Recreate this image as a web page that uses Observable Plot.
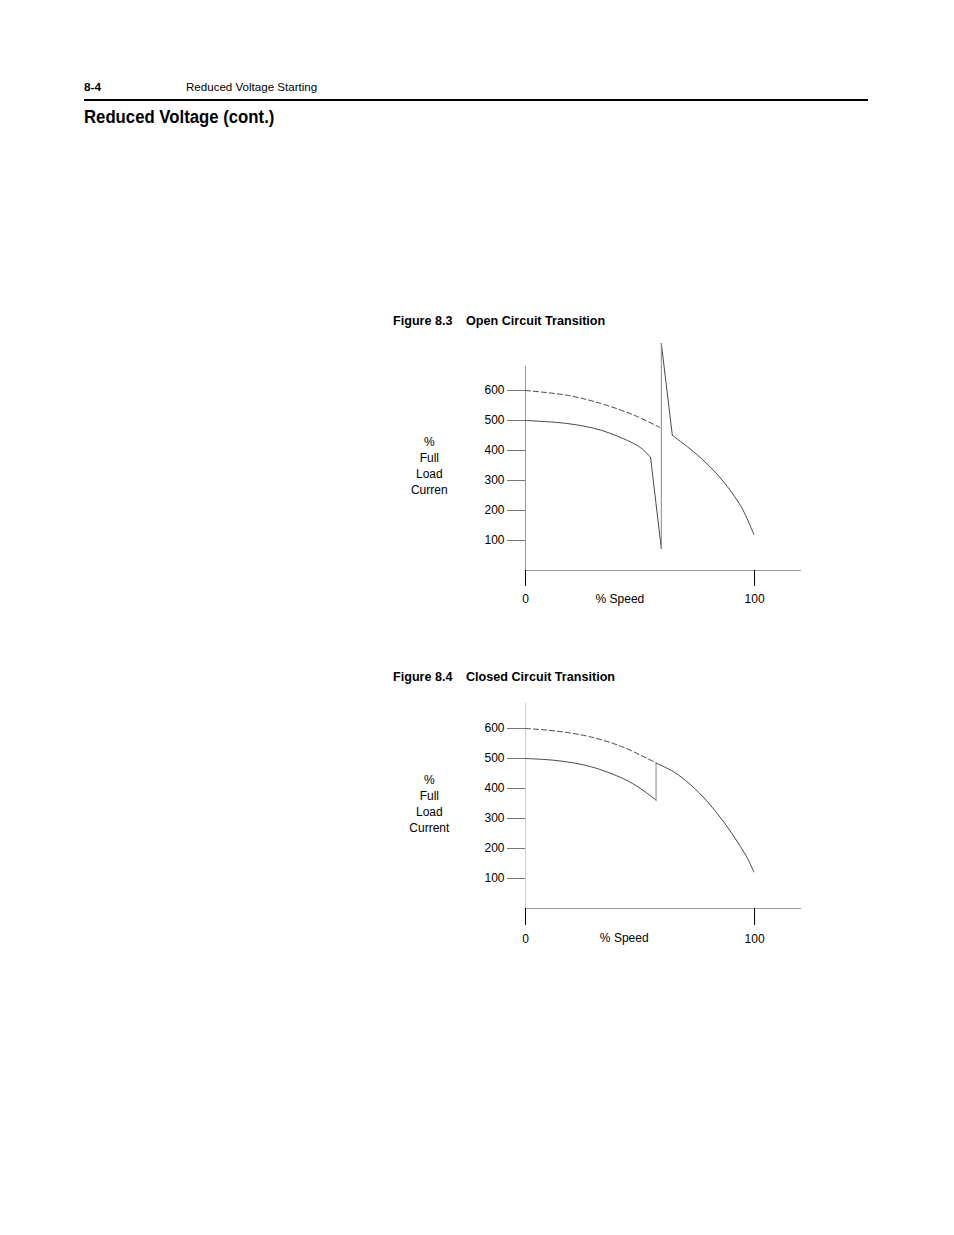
<!DOCTYPE html>
<html>
<head>
<meta charset="utf-8">
<script src="https://cdn.jsdelivr.net/npm/d3@7"></script>
<script src="https://cdn.jsdelivr.net/npm/@observablehq/plot@0.6"></script>
<style>
  html, body { margin: 0; padding: 0; background: #fff; }
  #page { position: relative; width: 954px; height: 1235px; overflow: hidden;
          font-family: "Liberation Sans", Arial, Helvetica, sans-serif; color: #000; }
  .t { position: absolute; white-space: nowrap; line-height: 1; transform-origin: left top; }
  .b { font-weight: bold; }
  .rule { position: absolute; left: 84px; top: 99px; width: 784px; height: 2px; background: #000; }
  .fig { position: absolute; left: 400px; }
</style>
</head>
<body>
<div id="page">
  <div class="t b" style="left:84px; top:81.5px; font-size:11.8px;">8-4</div>
  <div class="t" style="left:186px; top:81.5px; font-size:11.8px; transform:scaleX(0.98);">Reduced Voltage Starting</div>
  <div class="rule"></div>
  <div class="t b" style="left:84px; top:108.3px; font-size:18px; transform:scaleX(0.93);">Reduced Voltage (cont.)</div>

  <div class="t b" style="left:393px; top:315px; font-size:12.6px;">Figure 8.3</div>
  <div class="t b" style="left:466px; top:315px; font-size:12.6px;">Open Circuit Transition</div>
  <div class="fig" id="fig1" style="top:336px;"></div>

  <div class="t b" style="left:393px; top:671px; font-size:12.6px;">Figure 8.4</div>
  <div class="t b" style="left:466px; top:671px; font-size:12.6px;">Closed Circuit Transition</div>
  <div class="fig" id="fig2" style="top:698px;"></div>
</div>
<script>
// ---- shared axis data ----
const xTicks = [0, 100];
const yTicks = [100, 200, 300, 400, 500, 600];
const xAxisEnd = 120.5;
const xLabel = "% Speed";

// ---- Figure 8.3 Open Circuit Transition ----
const fig1YAxisTop = 681;
const fig1YLabel = "%\nFull\nLoad\nCurren";
const fig1Dashed = [[0, 600], [18.2, 584], [32.8, 557], [47.3, 518], [58.6, 477]];
const fig1Lower  = [[0, 500], [18.2, 490], [32.8, 468], [47.3, 423], [51, 405], [54.6, 377]];
const fig1Drop   = [[54.6, 377], [59.3, 73]];
const fig1Jump   = [[59.3, 73], [59.3, 757]];
const fig1Spike  = [[59.3, 757], [64.1, 451]];
const fig1Upper  = [[64.1, 451], [73.5, 395], [80.8, 344], [88.1, 280], [93.9, 216], [96.8, 172], [99.7, 120]];

// ---- Figure 8.4 Closed Circuit Transition ----
const fig2YAxisTop = 684;
const fig2YLabel = "%\nFull\nLoad\nCurrent";
const fig2Dashed = [[0, 600], [13.8, 591], [28.4, 572], [42.9, 537], [57, 485]];
const fig2Lower  = [[0, 500], [13.8, 493], [28.4, 473], [42.9, 432], [50.2, 400], [57, 361]];
const fig2Jump   = [[57, 361], [57, 485]];
const fig2Upper  = [[57, 485], [64.8, 455], [72, 413], [79.3, 357], [86.6, 288], [93.9, 206], [97, 166], [99.7, 122]];

const X = d => d[0], Y = d => d[1];
const curveColor = "#333";

function figure(cfg) {
  return Plot.plot({
    width: 420,
    height: cfg.yMax * 0.3 + 40,
    marginLeft: 125,
    marginRight: 19,
    marginTop: 0,
    marginBottom: 40,
    style: { fontFamily: '"Liberation Sans", Arial, sans-serif', fontSize: "12px", background: "transparent", overflow: "visible", color: "#000" },
    x: { domain: [0, xAxisEnd] },
    y: { domain: [0, cfg.yMax] },
    marks: [
      Plot.ruleX([0], { y1: 0, y2: cfg.yAxisTop, stroke: cfg.yAxisColor, strokeWidth: 1 }),
      Plot.ruleY([0], { x1: 0, x2: xAxisEnd, stroke: "#999", strokeWidth: 1 }),
      Plot.axisY({ ticks: yTicks, tickSize: 18, tickPadding: 3, stroke: "#777", fill: "#000", label: null, tickFormat: d => String(d) }),
      Plot.axisX({ ticks: xTicks, tickSize: cfg.xTickSize, tickPadding: cfg.xTickPad, stroke: "#000", fill: "#000", label: null, tickFormat: d => String(d) }),
      Plot.text([xLabel], { x: cfg.xLabelX, y: 0, dy: cfg.xLabelDy, text: d => d, fill: "#000" }),
      Plot.text([cfg.yLabel], { x: -42, y: 351, text: d => d, lineHeight: 1.333, fill: "#000" }),
      Plot.line(cfg.dashed, { x: X, y: Y, stroke: curveColor, strokeWidth: 0.9, strokeDasharray: "5,3", curve: "catmull-rom" }),
      Plot.line(cfg.lower, { x: X, y: Y, stroke: curveColor, strokeWidth: 0.9, curve: "catmull-rom" }),
      ...cfg.straight.map(seg => Plot.line(seg, { x: X, y: Y, stroke: curveColor, strokeWidth: 0.9 })),
      Plot.line(cfg.jump, { x: X, y: Y, stroke: "#888", strokeWidth: 1 }),
      Plot.line(cfg.upper, { x: X, y: Y, stroke: curveColor, strokeWidth: 0.9, curve: "catmull-rom" })
    ]
  });
}

document.getElementById("fig1").appendChild(figure({
  yMax: 780, yAxisTop: fig1YAxisTop, yAxisColor: "#999", yLabel: fig1YLabel,
  xTickSize: 16, xTickPad: 8, xLabelX: 41.2, xLabelDy: 28.3,
  dashed: fig1Dashed, lower: fig1Lower, straight: [fig1Drop, fig1Spike], jump: fig1Jump, upper: fig1Upper
}));

document.getElementById("fig2").appendChild(figure({
  yMax: 700, yAxisTop: fig2YAxisTop, yAxisColor: "#ccc", yLabel: fig2YLabel,
  xTickSize: 17, xTickPad: 9, xLabelX: 43.1, xLabelDy: 30,
  dashed: fig2Dashed, lower: fig2Lower, straight: [], jump: fig2Jump, upper: fig2Upper
}));
</script>
</body>
</html>
